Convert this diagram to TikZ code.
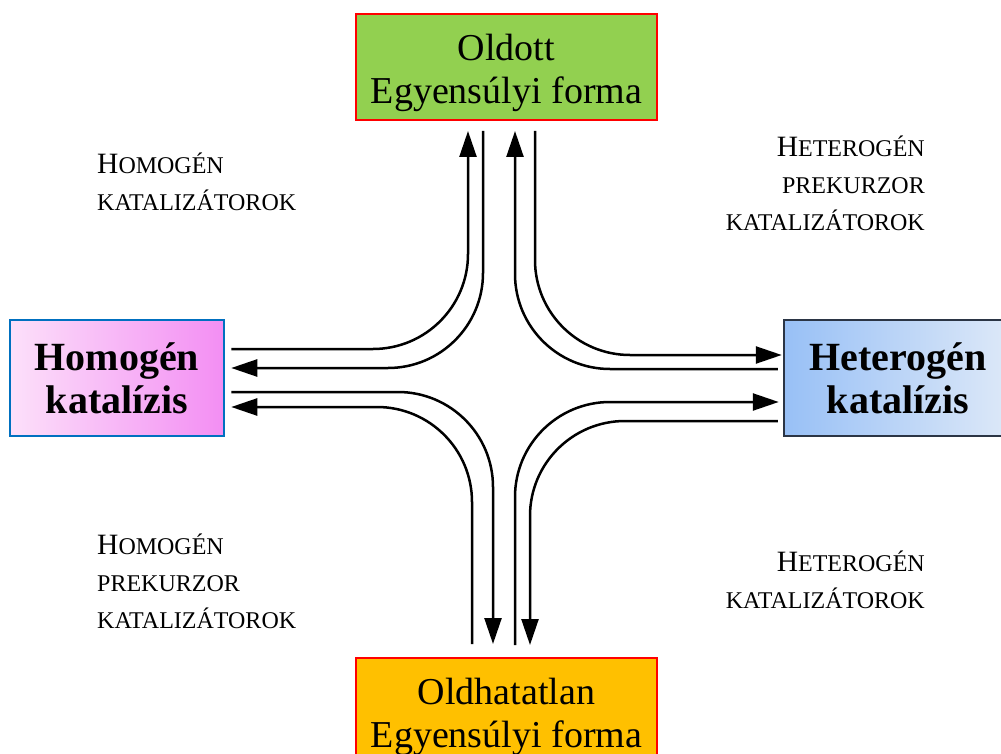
\documentclass[tikz,border=0pt]{standalone}
\usepackage{fontspec}
\setmainfont{Liberation Serif}
\usetikzlibrary{arrows.meta}

\definecolor{oldgreen}{HTML}{92D050}
\definecolor{insolorange}{HTML}{FFC000}
\definecolor{homblue}{HTML}{0070C0}
\definecolor{hetnavy}{HTML}{2B3545}
\definecolor{homlight}{HTML}{FCE0FA}
\definecolor{homdark}{HTML}{F38EF3}
\definecolor{hetdark}{HTML}{98C0F6}
\definecolor{hetlight}{HTML}{DEE9F8}
\newcommand{\lcap}[1]{{\fontsize{29.5}{37}\selectfont #1}}
\newcommand{\phtop}{\rule{0pt}{38pt}}

\tikzset{
  lane/.style={line width=2.5pt, -{Triangle[length=26pt,width=17pt]}, rounded corners=95pt},
  phase/.style={draw=red, line width=2pt, minimum width=301pt, minimum height=106pt, inner sep=0pt, align=center,
    font=\fontsize{38}{43}\selectfont},
  kat/.style={line width=2.5pt, minimum width=214pt, minimum height=116pt, inner sep=0pt, align=center, font=\bfseries\fontsize{40}{43}\selectfont},
  note/.style={inner sep=0pt, font=\fontsize{24}{37}\selectfont}
}

\begin{document}
\begin{tikzpicture}[x=1pt,y=-1pt]
\path[fill=white, use as bounding box] (0,0) rectangle (1001,754);

% the four boxes
\node[phase, fill=oldgreen] (sol) at (506.5,67) {\phtop Oldott\\Egyensúlyi forma};
\node[phase, fill=insolorange] (insol) at (506.5,711) {\phtop Oldhatatlan\\Egyensúlyi forma};
\node[kat, draw=homblue, left color=homlight, right color=homdark] (hom) at (117,378) {Homogén\\katalízis};
\node[kat, minimum width=228pt, draw=hetnavy, left color=hetdark, right color=hetlight] (het) at (898,378) {Heterogén\\katalízis};

% corner labels
\node[note, anchor=north west, align=left] (tl) at (97,153) {\lcap{H}OMOGÉN\\KATALIZÁTOROK};
\node[note, anchor=north east, align=right] (tr) at (925,136) {\lcap{H}ETEROGÉN\\PREKURZOR\\KATALIZÁTOROK};
\node[note, anchor=north west, align=left] (bl) at (97,534) {\lcap{H}OMOGÉN\\PREKURZOR\\KATALIZÁTOROK};
\node[note, anchor=north east, align=right] (br) at (925,551) {\lcap{H}ETEROGÉN\\KATALIZÁTOROK};

% lanes
\draw[lane, shorten <=6pt, shorten >=10pt] (hom.east |- 0,349) -| (sol.south -| 468,0);
\draw[lane, shorten <=10pt, shorten >=6pt] (sol.south -| 483,0) |- (hom.east |- 0,368);
\draw[lane, shorten <=5pt, shorten >=10pt] (het.west |- 0,369) -| (sol.south -| 515,0);
\draw[lane, shorten <=10pt, shorten >=1pt] (sol.south -| 535,0) |- (het.west |- 0,355);
\draw[lane, shorten <=6pt, shorten >=13pt] (hom.east |- 0,392) -| (insol.north -| 493,0);
\draw[lane, shorten <=13pt, shorten >=6pt] (insol.north -| 472,0) |- (hom.east |- 0,407);
\draw[lane, shorten <=12pt, shorten >=4pt] (insol.north -| 515,0) |- (het.west |- 0,402);
\draw[lane, shorten <=5pt, shorten >=12pt] (het.west |- 0,421) -| (insol.north -| 530,0);
\end{tikzpicture}
\end{document}
